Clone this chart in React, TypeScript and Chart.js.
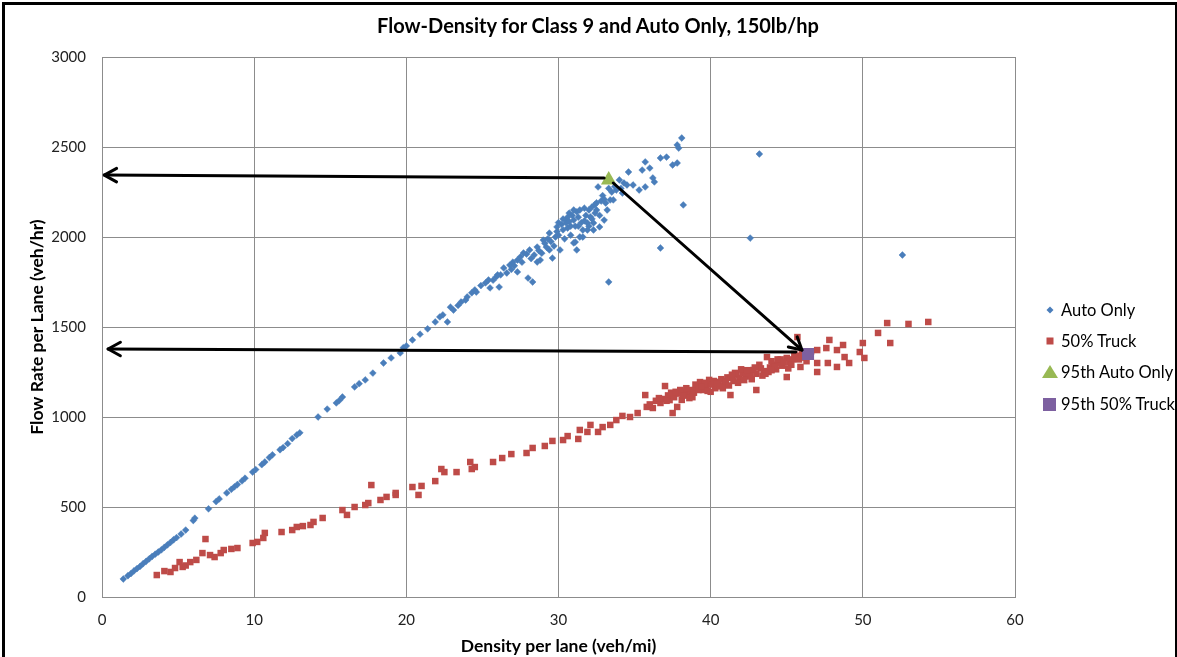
import React, { useEffect, useRef } from "react";
import { Chart, registerables } from "chart.js";

Chart.register(...registerables);

const W = 1177;
const H = 657;

const chartTitle = "Flow-Density for Class 9 and Auto Only, 150lb/hp";
const xAxisTitle = "Density per lane (veh/mi)";
const yAxisTitle = "Flow Rate per Lane (veh/hr)";
const xTickValues = [0, 10, 20, 30, 40, 50, 60];
const yTickValues = [0, 500, 1000, 1500, 2000, 2500, 3000];
const seriesNames = ["Auto Only", "50% Truck", "95th Auto Only", "95th 50% Truck"];

// [density, flow]
const autoOnly: [number, number][] = [
  [1.4, 100], [1.7, 118], [1.9, 130], [2.1, 145], [2.3, 158], [2.5, 170], [2.7, 185], [2.9, 198],
  [3.1, 212], [3.3, 226], [3.5, 238], [3.7, 250], [3.9, 262], [4.1, 276], [4.3, 290], [4.5, 303],
  [4.7, 318], [4.9, 330], [5.2, 350], [5.5, 372], [6.0, 425], [6.1, 438], [7.0, 490], [7.5, 530],
  [7.7, 545], [8.2, 578], [8.5, 598], [8.7, 612], [8.9, 625], [9.2, 645], [9.4, 660], [9.9, 694],
  [10.1, 708], [10.5, 735], [10.7, 750], [11.0, 775], [11.2, 790], [11.7, 818], [11.9, 830], [12.2, 852],
  [12.5, 880], [12.8, 900], [13.0, 912], [14.2, 1000], [14.8, 1044], [15.4, 1078], [15.6, 1092], [15.8, 1111],
  [16.6, 1167], [16.9, 1185], [17.3, 1206], [17.8, 1244], [18.5, 1300], [19.0, 1328], [19.6, 1356], [19.8, 1385],
  [20.0, 1395], [20.4, 1428], [20.9, 1460], [21.4, 1490], [21.9, 1528], [22.2, 1556], [22.4, 1567], [22.7, 1528],
  [22.9, 1610], [23.1, 1594], [23.4, 1620], [23.6, 1639], [23.9, 1650], [24.0, 1667], [24.3, 1690], [24.5, 1706],
  [24.6, 1694], [24.9, 1730], [25.2, 1745], [25.4, 1761], [25.5, 1717], [25.9, 1778], [26.1, 1722], [26.4, 1828],
  [26.6, 1800], [26.8, 1844], [26.9, 1820], [27.0, 1860], [27.3, 1806], [27.3, 1872], [27.5, 1890], [27.7, 1911],
  [27.9, 1905], [28.0, 1772], [28.3, 1750], [28.1, 1928], [28.4, 1900], [28.6, 1861], [28.6, 1944], [28.8, 1872],
  [28.9, 1910], [29.0, 1983], [29.1, 1965], [29.2, 1944], [29.4, 1928], [29.4, 2022], [29.6, 1883], [29.8, 2000],
  [29.9, 2056], [30.0, 2010], [30.1, 1928], [30.2, 2070], [30.3, 2040], [30.4, 1990], [30.5, 2094], [30.5, 2078],
  [30.6, 2110], [30.7, 2133], [30.8, 2060], [30.9, 2120], [31.0, 1967], [31.0, 2094], [31.1, 1972], [31.2, 1928],
  [31.2, 2140], [31.3, 2110], [31.4, 2150], [31.4, 2000], [31.5, 2080], [31.6, 2000], [31.6, 2039], [31.8, 2120],
  [31.9, 2039], [31.9, 2078], [32.0, 2150], [32.1, 2111], [32.2, 2167], [32.3, 2078], [32.3, 2039], [32.4, 2133],
  [32.5, 2150], [32.6, 2278], [32.7, 2056], [32.8, 2200], [32.9, 2230], [33.0, 2094], [33.1, 2189], [33.2, 2150],
  [33.4, 2206], [33.5, 2250], [33.6, 2206], [33.8, 2261], [34.0, 2317], [34.2, 2244], [34.3, 2300], [34.5, 2289],
  [34.6, 2361], [34.9, 2289], [35.3, 2261], [35.5, 2372], [35.7, 2278], [35.7, 2417], [36.0, 2383], [36.2, 2328],
  [36.3, 2306], [36.7, 2439], [37.1, 2444], [37.5, 2400], [37.8, 2411], [37.8, 2511], [37.9, 2494], [38.1, 2550],
  [38.2, 2178], [36.7, 1939], [33.3, 1750], [43.2, 2461], [42.6, 1994], [52.6, 1900],
  [29.5, 1975], [30.0, 2080], [30.6, 2050], [31.1, 2060], [31.7, 2090], [32.2, 2100], [29.7, 1950], [30.8, 2010],
  [32.5, 2190], [33.3, 2270], [34.1, 2270], [27.1, 1840], [26.2, 1790], [25.7, 1760],
  [28.2, 1880], [28.7, 1925], [29.3, 1990], [29.9, 2030], [30.3, 2100], [30.7, 2085], [31.0, 2150], [31.3, 2060],
  [31.7, 2160], [32.0, 2060], [32.4, 2180], [32.7, 2120], [33.0, 2210], [33.7, 2280], [27.6, 1860], [26.0, 1790],
];

const truck50: [number, number][] = [
  [3.6, 122], [4.1, 144], [4.5, 139], [4.8, 161], [5.1, 194], [5.3, 167], [5.5, 175], [5.8, 194],
  [6.2, 206], [6.6, 244], [6.8, 322], [7.1, 233], [7.4, 222], [7.8, 244], [8.0, 261], [8.5, 267],
  [8.9, 272], [9.9, 300], [10.2, 306], [10.6, 328], [10.7, 356], [11.8, 361], [12.5, 372], [12.8, 389],
  [13.2, 394], [13.7, 400], [13.9, 417], [14.5, 439], [15.8, 483], [16.1, 456], [16.6, 500], [17.3, 511],
  [17.7, 622], [17.5, 522], [18.3, 539], [18.7, 556], [19.3, 567], [19.3, 578], [20.4, 611], [20.8, 567],
  [21.0, 617], [21.9, 644], [22.3, 711], [22.5, 694], [23.3, 694], [24.2, 750], [24.3, 711], [24.5, 722],
  [25.7, 750], [26.3, 772], [26.9, 794], [27.9, 800], [28.3, 828], [29.1, 839], [29.6, 867], [30.3, 872],
  [30.6, 894], [31.3, 878], [31.4, 928], [32.1, 956], [31.9, 917], [32.6, 917], [32.9, 944], [33.4, 956],
  [33.8, 983], [34.2, 1006], [34.7, 1000], [35.2, 1022], [35.7, 1122], [35.8, 1056], [36.2, 1050], [36.7, 1078],
  [37.0, 1172], [37.3, 1094], [37.5, 1022], [37.8, 1056], [36.9, 1100], [37.2, 1120], [37.6, 1110], [37.9, 1130],
  [38.1, 1095], [38.3, 1140], [38.5, 1120], [38.7, 1150], [38.9, 1135], [39.1, 1165], [39.3, 1194], [39.5, 1150],
  [39.7, 1175], [39.9, 1206], [40.1, 1180], [40.3, 1160], [40.5, 1195], [40.7, 1210], [40.9, 1185], [41.1, 1220],
  [41.3, 1217], [41.3, 1122], [41.5, 1200], [41.7, 1235], [41.9, 1215], [42.1, 1244], [42.3, 1225], [42.5, 1250],
  [42.8, 1261], [43.0, 1150], [43.0, 1240], [43.3, 1270], [43.5, 1255], [43.7, 1333], [43.9, 1275], [44.1, 1290],
  [44.3, 1265], [44.5, 1300], [44.7, 1285], [45.0, 1328], [45.0, 1222], [45.2, 1305], [45.4, 1320], [45.7, 1444],
  [45.9, 1278], [45.6, 1340], [46.1, 1330], [38.0, 1150], [38.6, 1105], [39.0, 1180], [39.6, 1190], [40.0, 1140],
  [40.6, 1170], [41.0, 1200], [41.8, 1190], [42.0, 1265], [42.6, 1230], [43.2, 1290], [43.8, 1250], [44.0, 1310],
  [44.6, 1320], [45.3, 1290], [47.0, 1300], [47.0, 1372], [47.0, 1250], [47.6, 1383], [47.7, 1300], [47.8, 1428],
  [48.3, 1372], [48.3, 1278], [48.7, 1400], [48.8, 1333], [49.1, 1300], [49.8, 1361], [50.0, 1411], [50.1, 1328],
  [51.0, 1467], [51.6, 1522], [51.8, 1411], [53.0, 1517], [54.3, 1528],
  [36.4, 1090], [37.4, 1135], [38.2, 1120], [39.2, 1150], [40.2, 1200], [40.8, 1160], [41.6, 1245], [42.2, 1205],
  [42.9, 1275], [43.6, 1240], [44.2, 1280], [44.8, 1305], [45.5, 1350], [46.3, 1310], [46.6, 1365],
  [36.0, 1070], [36.6, 1105], [37.1, 1090], [37.7, 1140], [38.4, 1160], [38.8, 1110], [39.4, 1170], [39.8, 1145],
  [40.4, 1185], [41.2, 1175], [41.4, 1235], [42.4, 1260], [42.7, 1210], [43.4, 1230], [44.0, 1260], [44.4, 1320],
  [45.1, 1270], [45.8, 1320], [46.0, 1350],
];

const auto95th: [number, number][] = [[33.3, 2317]];
const truck95th: [number, number][] = [[46.4, 1350]];

// annotation arrows: [fromDensity, fromFlow, toDensity, toFlow]
const arrowLines: [number, number, number, number][] = [
  [33.0, 2328, 0.15, 2344],
  [33.6, 2300, 46.0, 1372],
  [45.6, 1361, 0.4, 1378],
];

const COLORS = ["#4A7EBB", "#BE4B48", "#98B954", "#7D60A0"];

const toPts = (arr: [number, number][]) => arr.map(([x, y]) => ({ x, y }));

const arrowPlugin = {
  id: "arrowLines",
  afterDatasetsDraw(chart: any) {
    const { ctx, scales } = chart;
    const xs = scales.x;
    const ys = scales.y;
    ctx.save();
    ctx.strokeStyle = "#000";
    ctx.lineWidth = 3;
    ctx.lineCap = "round";
    ctx.lineJoin = "round";
    for (const [fx, fy, tx, ty] of arrowLines) {
      const x1 = xs.getPixelForValue(fx);
      const y1 = ys.getPixelForValue(fy);
      const x2 = xs.getPixelForValue(tx);
      const y2 = ys.getPixelForValue(ty);
      ctx.beginPath();
      ctx.moveTo(x1, y1);
      ctx.lineTo(x2, y2);
      ctx.stroke();
      const ang = Math.atan2(y2 - y1, x2 - x1);
      const len = 14;
      const spread = 0.5;
      ctx.beginPath();
      ctx.moveTo(x2 - len * Math.cos(ang - spread), y2 - len * Math.sin(ang - spread));
      ctx.lineTo(x2, y2);
      ctx.lineTo(x2 - len * Math.cos(ang + spread), y2 - len * Math.sin(ang + spread));
      ctx.stroke();
    }
    ctx.restore();
  },
};

const FONT = "Lato, 'Open Sans', sans-serif";

function LegendMarker({ i }: { i: number }) {
  const c = COLORS[i];
  if (i === 0)
    return (
      <svg width="14" height="14"><polygon points="7,3.5 10.5,7 7,10.5 3.5,7" fill={c} /></svg>
    );
  if (i === 1)
    return (
      <svg width="14" height="14"><rect x="3.5" y="3.5" width="7" height="7" fill={c} /></svg>
    );
  if (i === 2)
    return (
      <svg width="16" height="14"><polygon points="8,0 16,13 0,13" fill={c} /></svg>
    );
  return (
    <svg width="16" height="14"><rect x="1" y="1" width="13" height="13" fill={c} /></svg>
  );
}

export default function App() {
  const ref = useRef<HTMLCanvasElement | null>(null);

  useEffect(() => {
    if (!ref.current) return;
    const chart = new Chart(ref.current, {
      type: "scatter",
      data: {
        datasets: [
          {
            label: seriesNames[2],
            data: toPts(auto95th),
            pointStyle: "triangle",
            radius: 9,
            backgroundColor: COLORS[2],
            borderColor: COLORS[2],
            borderWidth: 0,
            order: 0,
          },
          {
            label: seriesNames[3],
            data: toPts(truck95th),
            pointStyle: "rect",
            radius: 8.5,
            backgroundColor: COLORS[3],
            borderColor: COLORS[3],
            borderWidth: 0,
            order: 0,
          },
          {
            label: seriesNames[0],
            data: toPts(autoOnly),
            pointStyle: "rectRot",
            radius: 3.4,
            backgroundColor: COLORS[0],
            borderColor: COLORS[0],
            borderWidth: 0.5,
            order: 2,
          },
          {
            label: seriesNames[1],
            data: toPts(truck50),
            pointStyle: "rect",
            radius: 4.6,
            backgroundColor: COLORS[1],
            borderColor: COLORS[1],
            borderWidth: 0,
            order: 1,
          },
        ],
      },
      options: {
        animation: false,
        responsive: false,
        events: [],
        layout: { padding: { left: 0, right: 162, top: 57, bottom: 0 } },
        plugins: {
          legend: { display: false },
          tooltip: { enabled: false },
          title: { display: false },
        },
        scales: {
          x: {
            type: "linear",
            min: 0,
            max: 60,
            afterFit: (s: any) => {
              s.height = 60;
            },
            afterBuildTicks: (s: any) => {
              s.ticks = xTickValues.map((v) => ({ value: v }));
            },
            ticks: {
              color: "#222",
              font: { family: FONT, size: 15 },
              padding: 14,
              callback: (v: any) => String(v),
            },
            grid: { color: "#8C8C8C", drawTicks: false, lineWidth: 1 },
            border: { color: "#8C8C8C" },
            title: {
              display: true,
              text: xAxisTitle,
              color: "#000",
              font: { family: FONT, size: 17.5, weight: "bold", lineHeight: 1.2 },
              padding: { top: 0, bottom: 0.5 },
            },
          },
          y: {
            type: "linear",
            min: 0,
            max: 3000,
            afterFit: (s: any) => {
              s.width = 102;
            },
            afterBuildTicks: (s: any) => {
              s.ticks = yTickValues.map((v) => ({ value: v }));
            },
            ticks: {
              color: "#222",
              font: { family: FONT, size: 15 },
              padding: 16,
              callback: (v: any) => String(v),
            },
            grid: { color: "#8C8C8C", drawTicks: false, lineWidth: 1 },
            border: { color: "#8C8C8C" },
            title: {
              display: true,
              text: yAxisTitle,
              color: "#000",
              font: { family: FONT, size: 17.5, weight: "bold", lineHeight: 1.2 },
              padding: { top: 26.5, bottom: 0 },
            },
          },
        },
      },
      plugins: [arrowPlugin],
    });
    return () => chart.destroy();
  }, []);

  const legendOrder = [0, 1, 2, 3];

  return (
    <div style={{ position: "fixed", left: 0, top: 0, width: W, height: H, background: "#fff", overflow: "hidden" }}>
      <canvas ref={ref} width={W} height={H} style={{ width: W, height: H, display: "block" }} />
      <div
        style={{
          position: "absolute",
          left: 0,
          top: 13,
          width: 1196,
          textAlign: "center",
          fontFamily: FONT,
          fontWeight: "bold",
          fontSize: 20,
          lineHeight: "24px",
          color: "#000",
          whiteSpace: "nowrap",
        }}
      >
        {chartTitle}
      </div>
      <div
        style={{
          position: "absolute",
          left: 2,
          top: 2,
          width: W - 7,
          height: H,
          borderLeft: "3px solid #000",
          borderTop: "3px solid #000",
          borderRight: "3px solid #000",
          pointerEvents: "none",
        }}
      />
      <div style={{ position: "absolute", left: 1041, top: 294, fontFamily: FONT, fontSize: 16.5, color: "#000" }}>
        {legendOrder.map((i) => (
          <div key={i} style={{ display: "flex", alignItems: "center", height: 31.3, whiteSpace: "nowrap" }}>
            <span style={{ width: 18, display: "inline-flex", justifyContent: "center" }}>
              <LegendMarker i={i} />
            </span>
            <span style={{ marginLeft: 2 }}>{seriesNames[i]}</span>
          </div>
        ))}
      </div>
    </div>
  );
}
